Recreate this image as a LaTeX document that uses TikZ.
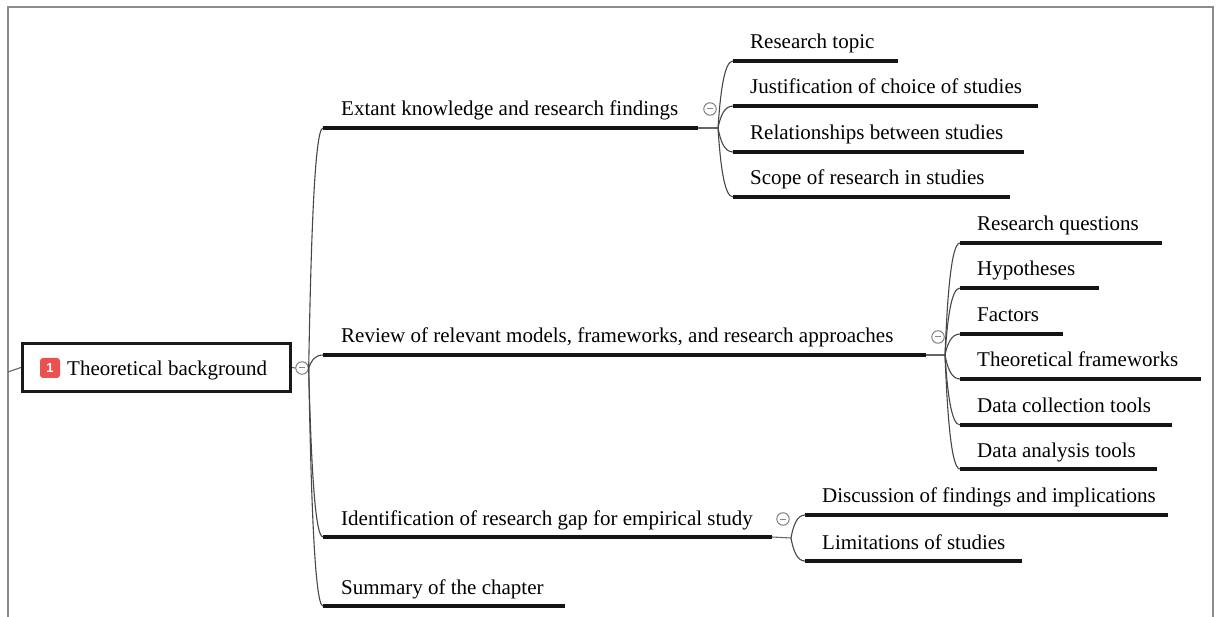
\documentclass[tikz,border=0pt]{standalone}
\usepackage{fontspec}
\setmainfont{Liberation Serif}
\newfontfamily\badgefont{Liberation Sans}
\usetikzlibrary{calc}
\definecolor{badgered}{HTML}{E9524F}
\definecolor{framegray}{HTML}{8C8C8C}
\definecolor{minusgray}{HTML}{7A8896}
\newcommand\topic[6]{%
  \coordinate (#1-s) at (#2,#4);
  \coordinate (#1-e) at (#3,#4);
  \draw[uline] (#1-s) -- (#1-e);
  \node[lbl] (#1) at (#5,#4-12) {#6};}
\begin{document}
\begin{tikzpicture}[x=1pt,y=-1pt,
  lbl/.style={anchor=base west, inner sep=0pt, font=\fontsize{21}{24}\selectfont, text=black},
  uline/.style={line width=3.8pt, black!92},
  conn/.style={line width=1.1pt, black!72},
  thinline/.style={line width=1.1pt, black!60},
  framestyle/.style={line width=1.4pt, framegray},
  rootbox/.style={draw=black!90, line width=3.2pt, fill=white, minimum width=268pt, minimum height=48pt, inner sep=0pt},
  badge/.style={fill=badgered, rounded corners=3pt, minimum width=20pt, minimum height=20pt, inner sep=0pt, text=white, font=\badgefont\bfseries\fontsize{13}{13}\selectfont},
  collapse/.style={circle, draw=black!55, fill=white, line width=0.9pt, minimum size=12.5pt, inner sep=0pt,
    path picture={\draw[line width=1pt, minusgray] ([xshift=-2.6pt]path picture bounding box.center) -- ([xshift=2.6pt]path picture bounding box.center);}},
  branch/.style={to path={let \p1=(\tikztostart), \p2=(\tikztotarget) in
    .. controls (\x1+0.15*\x2-0.15*\x1, 0.5*\y1+0.5*\y2) and (0.4*\x2+0.6*\x1, \y2) .. (\tikztotarget) \tikztonodes}},
]
\useasboundingbox (0,0) rectangle (1216,617);
% frame
\draw[framestyle] (8,617) -- (8,7) -- (1213,7) -- (1213,617);

% root
\coordinate (inlet) at (8,372);
\node[rootbox] (root) at (156.5,367.5) {};
\node[badge] (badge) at (50,368) {1};
\node[lbl] (roottxt) at (67,375.5) {Theoretical background};
\draw[thinline] (inlet) -- (root.west);
\node[collapse] (k0) at (302,368) {};
\draw[thinline] (root.east) -- (k0.west);

% main branches
\topic{b1}{323}{698}{128}{341}{Extant knowledge and research findings}
\topic{b2}{323}{926}{355}{341}{Review of relevant models, frameworks, and research approaches}
\topic{b3}{323}{772}{537}{341}{Identification of research gap for empirical study}
\topic{b4}{323}{565}{606}{341}{Summary of the chapter}
\foreach \b in {b1,b2,b3,b4} \draw[conn] (k0.east) to[branch] (\b-s);

% branch 1 children
\coordinate (j1) at (718,128);
\draw[thinline] (b1-e) -- (j1);
\node[collapse] (k1) at (710,109) {};
\topic{s11}{733}{898}{61}{750}{Research topic}
\topic{s12}{733}{1038}{106}{750}{Justification of choice of studies}
\topic{s13}{733}{1024}{152}{750}{Relationships between studies}
\topic{s14}{733}{1010}{197}{750}{Scope of research in studies}
\foreach \s in {s11,s12,s13,s14} \draw[conn] (j1) to[branch] (\s-s);

% branch 2 children
\coordinate (j2) at (945,355);
\draw[thinline] (b2-e) -- (j2);
\node[collapse] (k2) at (938,337) {};
\topic{s21}{960}{1162}{243}{977}{Research questions}
\topic{s22}{960}{1099}{288}{977}{Hypotheses}
\topic{s23}{960}{1063}{334}{977}{Factors}
\topic{s24}{960}{1201}{379}{977}{Theoretical frameworks}
\topic{s25}{960}{1172}{425}{977}{Data collection tools}
\topic{s26}{960}{1157}{469}{977}{Data analysis tools}
\foreach \s in {s21,s22,s23,s24,s25,s26} \draw[conn] (j2) to[branch] (\s-s);

% branch 3 children
\coordinate (j3) at (791,538);
\draw[thinline] (b3-e) -- (j3);
\node[collapse] (k3) at (783,519) {};
\topic{s31}{805}{1168}{515}{822}{Discussion of findings and implications}
\topic{s32}{805}{1022}{561}{822}{Limitations of studies}
\foreach \s in {s31,s32} \draw[conn] (j3) to[branch] (\s-s);
\end{tikzpicture}
\end{document}
